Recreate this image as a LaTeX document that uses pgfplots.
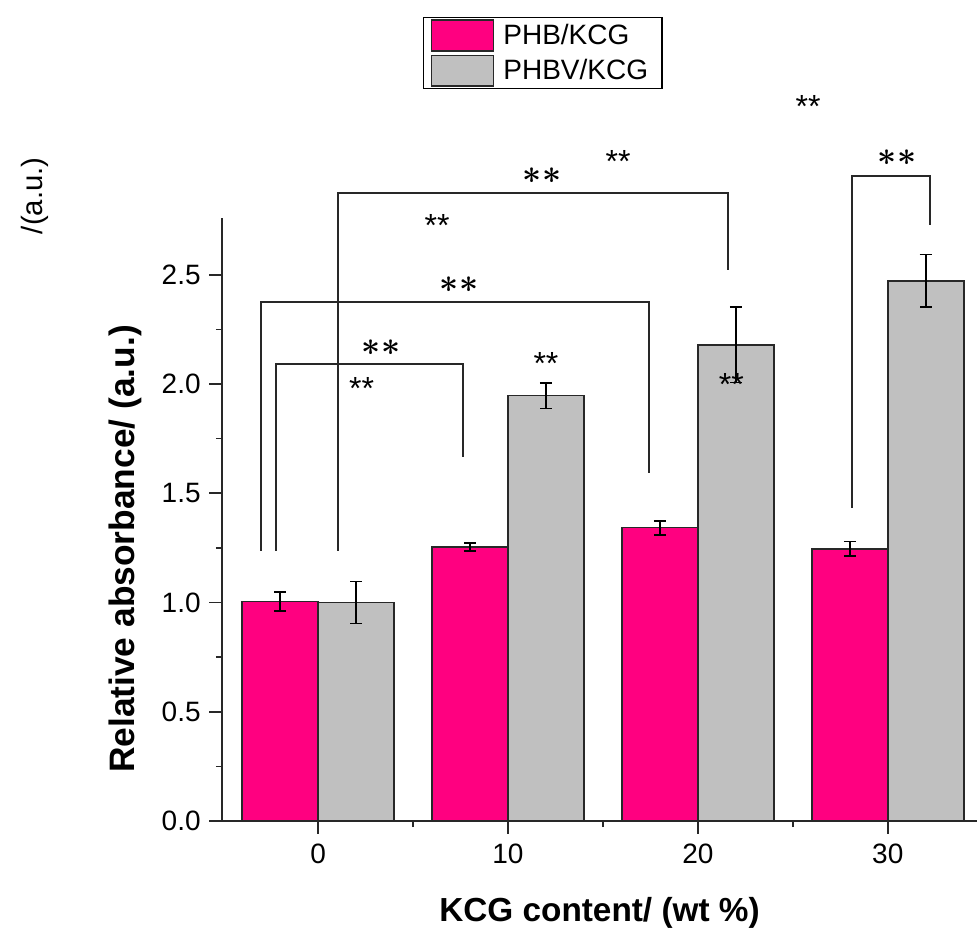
\documentclass[border=0pt]{standalone}
\usepackage{fontspec}
\setmainfont{Liberation Sans}
\usepackage{pgfplots}
\pgfplotsset{compat=1.18}

\definecolor{phb}{RGB}{255,0,128}
\definecolor{phbv}{RGB}{192,192,192}
\definecolor{edge}{RGB}{40,40,40}

% font sizes (1 px of the reference = 0.75pt)
\newcommand{\tickfont}{\fontsize{21}{22}\selectfont}
\newcommand{\legfont}{\fontsize{21}{22}\selectfont}
\newcommand{\smallast}{\fontsize{24}{24}\selectfont}
\newcommand{\bigast}{\fontsize{31}{31}\selectfont\boldmath}
\newcommand{\twostars}{$\mathord{\ast}\kern1pt\mathord{\ast}$}

\pgfplotsset{
  sig/.style={draw=edge, line width=1.4pt, forget plot, mark=none},
  errs/.style={error bars/.cd, y dir=both, y explicit,
    error bar style={line width=1.4pt, black},
    error mark options={rotate=90, mark size=4.5pt, line width=1.4pt, black}},
}
\tikzset{
  sstar/.style={font=\smallast, anchor=center, yshift=-5pt, inner sep=0pt},
  bstar/.style={font=\bigast, anchor=center, inner sep=0pt},
}

\begin{document}
\begin{tikzpicture}
\path[use as bounding box] (0,0) rectangle (732.75pt,699pt);
\begin{axis}[
    at={(166.5pt,83.25pt)}, anchor=south west,
    scale only axis,
    width=566.25pt, height=452.25pt,
    xmin=-5.06, xmax=34.7,
    ymin=0, ymax=2.76,
    clip=false,
    axis x line=bottom, axis y line=left,
    axis line style={-, line width=1.2pt, edge},
    tick style={line width=1.2pt, edge},
    tick align=outside,
    major tick length=9.5pt, minor tick length=4.5pt,
    xtick={0,10,20,30}, minor xtick={5,15,25},
    ytick={0,0.5,1,1.5,2,2.5}, minor ytick={0.25,0.75,1.25,1.75,2.25},
    /pgf/number format/assume math mode=true,
    ticklabel style={font=\tickfont},
    xticklabel style={yshift=-4pt},
    yticklabel style={xshift=-3pt, /pgf/number format/.cd, fixed, fixed zerofill, precision=1},
    xlabel={\bfseries KCG content/ (wt \%)},
    ylabel={\bfseries Relative absorbance/ (a.u.)},
    every axis x label/.style={at={(axis description cs:0.5,-0.152)}, anchor=center, font=\fontsize{25}{25}\selectfont},
    every axis y label/.style={at={(axis description cs:-0.1285,0.451)}, rotate=90, anchor=center, font=\fontsize{26.5}{26.5}\selectfont},
    legend style={at={(axis description cs:0.266,1.333)}, anchor=north west,
        draw=black, line width=0.9pt, fill=white, font=\legfont,
        inner xsep=5.5pt, inner ysep=1.2pt, row sep=2.2pt,
        nodes={inner sep=0pt}, column sep=6.75pt},
    legend cell align=left,
]

% PHB/KCG (bars centred 2 units left of each tick)
\addplot[ybar, bar width=4, bar shift=0pt, fill=phb, draw=edge, line width=1.2pt,
    legend image code/.code={\draw[fill=phb, draw=edge, line width=1.2pt] (0pt,-11.5pt) rectangle (46.5pt,11.5pt);},
    errs]
coordinates {
    (-2,1.004) +- (0,0.044)
    (8,1.253) +- (0,0.018)
    (18,1.343) +- (0,0.032)
    (28,1.245) +- (0,0.034)
};
\addlegendentry{PHB/KCG\kern5pt}

% PHBV/KCG (bars centred 2 units right of each tick)
\addplot[ybar, bar width=4, bar shift=0pt, fill=phbv, draw=edge, line width=1.2pt,
    legend image code/.code={\draw[fill=phbv, draw=edge, line width=1.2pt] (0pt,-11.5pt) rectangle (46.5pt,11.5pt);},
    errs]
coordinates {
    (2,1.0) +- (0,0.096)
    (12,1.947) +- (0,0.059)
    (22,2.179) +- (0,0.172)
    (32,2.473) +- (0,0.12)
};
\addlegendentry{PHBV/KCG\kern5pt}

% significance brackets
\addplot[sig] coordinates {(-2.21,1.236) (-2.21,2.093) (7.64,2.093) (7.64,1.667)};
\addplot[sig] coordinates {(-3.0,1.236) (-3.0,2.376) (17.44,2.376) (17.44,1.593)};
\addplot[sig] coordinates {(1.05,1.236) (1.05,2.875) (21.6,2.875) (21.6,2.523)};
\addplot[sig] coordinates {(28.13,1.433) (28.13,2.953) (32.24,2.953) (32.24,2.729)};

% bracket labels
\node[bstar] at (axis cs:3.32,2.168) {\twostars};
\node[bstar] at (axis cs:7.43,2.454) {\twostars};
\node[bstar] at (axis cs:11.8,2.953) {\twostars};
\node[bstar] at (axis cs:30.5,3.036) {\twostars};

% loose small markers
\node[sstar] at (axis cs:25.8,3.301) {**};
\node[sstar] at (axis cs:15.8,3.05) {**};
\node[sstar] at (axis cs:6.27,2.756) {**};
\node[sstar] at (axis cs:2.29,2.01) {**};
\node[sstar] at (axis cs:12.0,2.125) {**};
\node[sstar] at (axis cs:21.76,2.028) {**};

\node[rotate=90, font=\fontsize{22}{22}\selectfont, anchor=center] at (axis cs:-14.91,2.862) {/(a.u.)};

\end{axis}
\end{tikzpicture}
\end{document}
